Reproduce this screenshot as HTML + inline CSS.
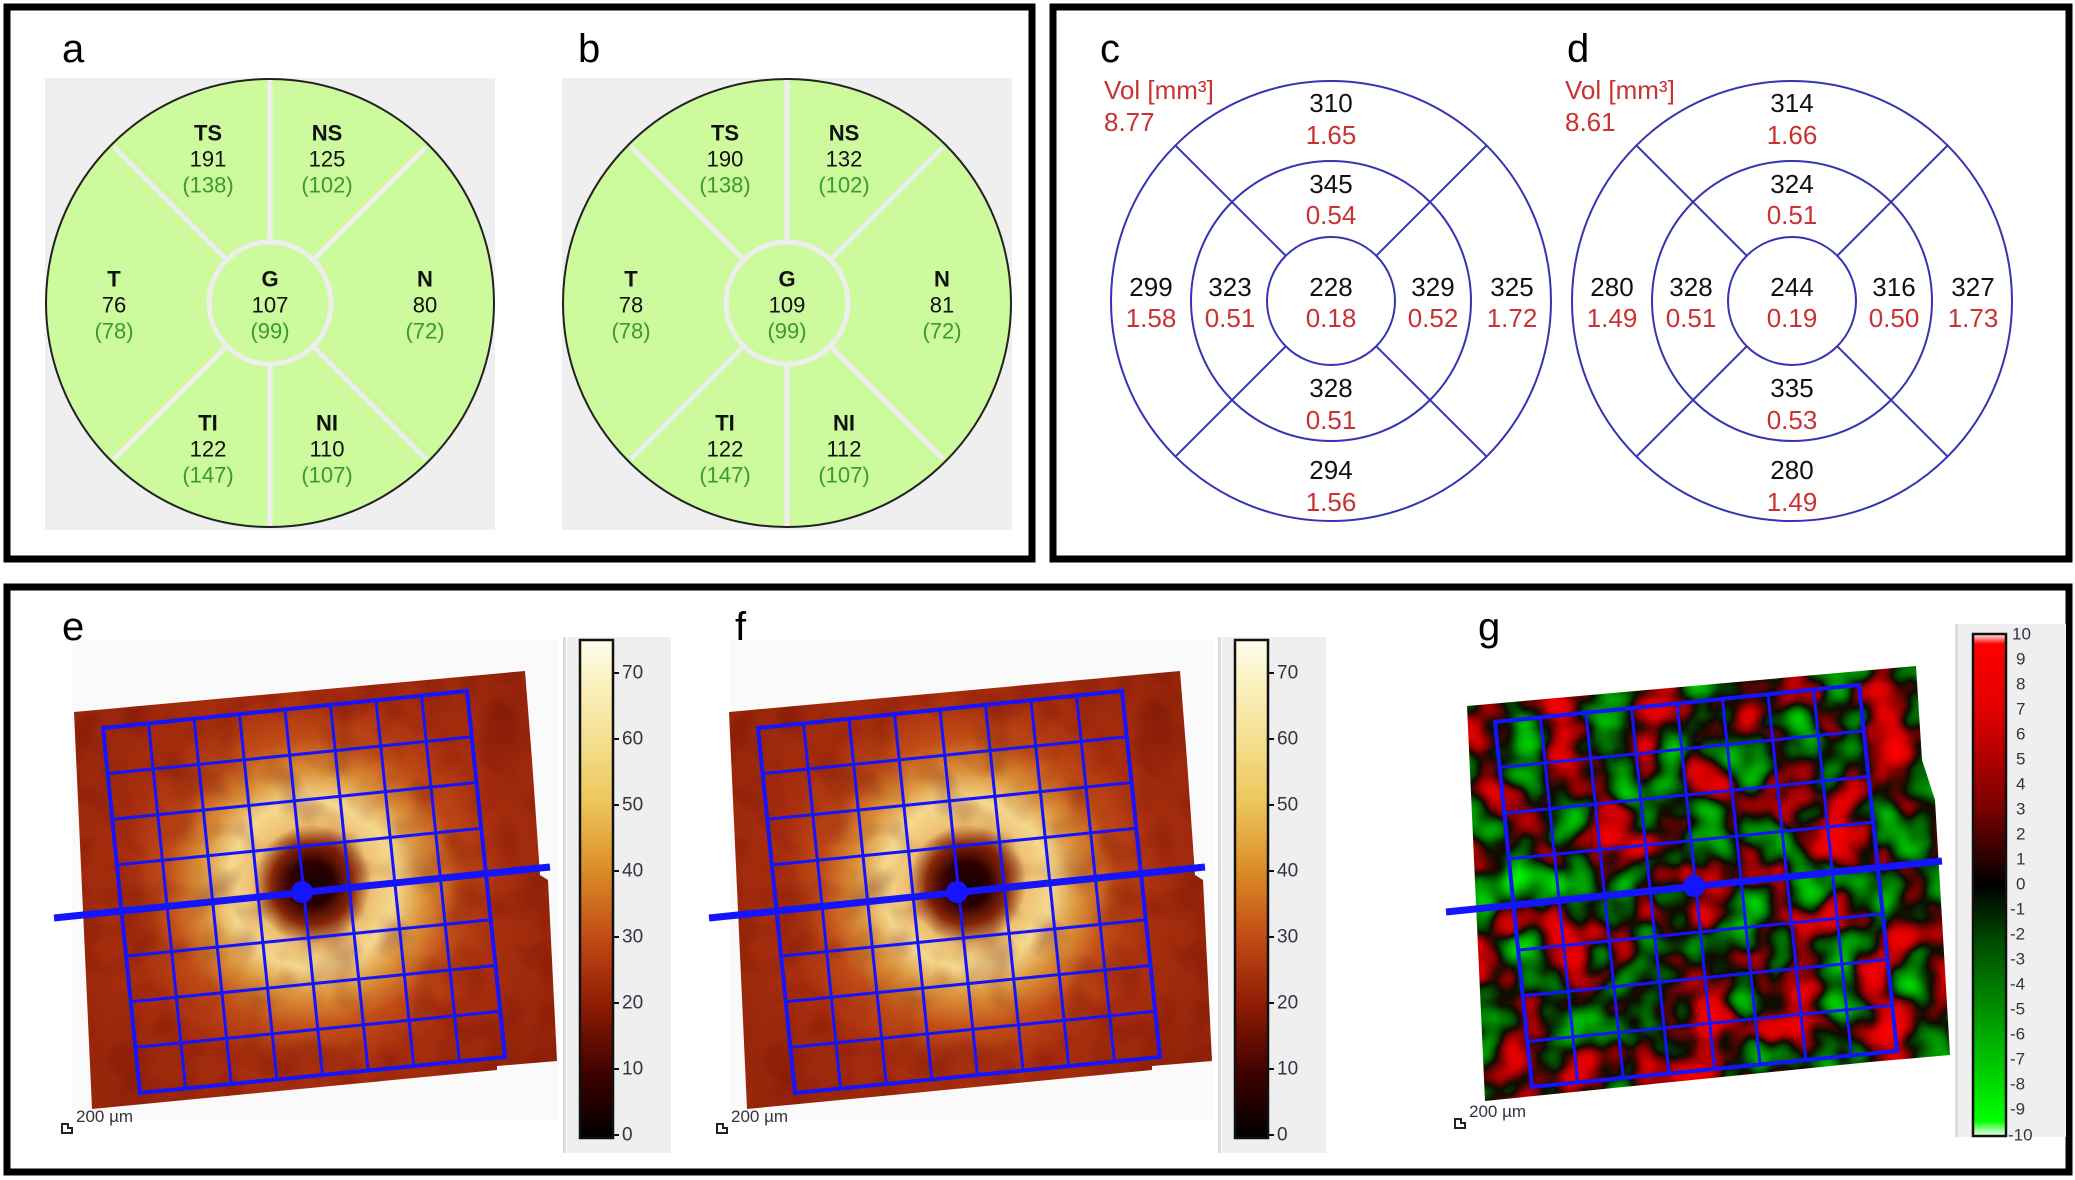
<!DOCTYPE html>
<html><head><meta charset="utf-8"><style>
html,body{margin:0;padding:0;background:#fff;}
svg{display:block;font-family:"Liberation Sans",sans-serif;}
</style></head><body>
<svg width="2075" height="1180" viewBox="0 0 2075 1180" xmlns="http://www.w3.org/2000/svg">
<defs>
 <radialGradient id="hm" gradientUnits="userSpaceOnUse" cx="312" cy="884" r="270">
  <stop offset="0" stop-color="#140000"/>
  <stop offset="0.08" stop-color="#2a0000"/>
  <stop offset="0.15" stop-color="#8a2a08"/>
  <stop offset="0.22" stop-color="#eec070"/>
  <stop offset="0.31" stop-color="#f4d88e"/>
  <stop offset="0.42" stop-color="#da9038"/>
  <stop offset="0.54" stop-color="#c04c16"/>
  <stop offset="0.7" stop-color="#a82e0e"/>
  <stop offset="1" stop-color="#98260a"/>
 </radialGradient>
 <linearGradient id="cb1" x1="0" y1="1" x2="0" y2="0">
  <stop offset="0" stop-color="#000000"/>
  <stop offset="0.133" stop-color="#400200"/>
  <stop offset="0.267" stop-color="#901c04"/>
  <stop offset="0.4" stop-color="#c24a14"/>
  <stop offset="0.533" stop-color="#da8a26"/>
  <stop offset="0.667" stop-color="#ecc458"/>
  <stop offset="0.8" stop-color="#f4e090"/>
  <stop offset="0.933" stop-color="#fbf4c8"/>
  <stop offset="1" stop-color="#fffdf0"/>
 </linearGradient>
 <linearGradient id="cb2" x1="0" y1="0" x2="0" y2="1">
  <stop offset="0" stop-color="#fff4f4"/>
  <stop offset="0.02" stop-color="#ff0000"/>
  <stop offset="0.15" stop-color="#e00000"/>
  <stop offset="0.35" stop-color="#780000"/>
  <stop offset="0.5" stop-color="#000000"/>
  <stop offset="0.62" stop-color="#005000"/>
  <stop offset="0.78" stop-color="#00a000"/>
  <stop offset="0.97" stop-color="#00ff00"/>
  <stop offset="1" stop-color="#f4fff4"/>
 </linearGradient>
 <filter id="tex" x="0" y="0" width="100%" height="100%" color-interpolation-filters="sRGB">
  <feTurbulence type="fractalNoise" baseFrequency="0.025" numOctaves="2" seed="3"/>
  <feColorMatrix type="matrix" values="0 0 0 0 0.35  0 0 0 0 0  0 0 0 0 0  1.6 0 0 0 -0.7"/>
 </filter>
 <filter id="rg" x="0" y="0" width="100%" height="100%" color-interpolation-filters="sRGB">
  <feTurbulence type="fractalNoise" baseFrequency="0.022" numOctaves="2" seed="7"/>
  <feColorMatrix type="matrix" values="1 0 0 0 0  1 0 0 0 0  0 0 0 0 0  0 0 0 0 1"/>
  <feComponentTransfer>
   <feFuncR type="table" tableValues="0 0 0 0 0 0.05 0.55 0.85 0.95 1 1"/>
   <feFuncG type="table" tableValues="1 1 0.85 0.65 0.4 0.05 0 0 0 0 0"/>
   <feFuncB type="table" tableValues="0 0"/>
  </feComponentTransfer>
 </filter>
 <clipPath id="ce"><polygon points="74,712 525,671 532,760 540,875 548,880 557,1061 497,1066 497,1070 92,1109"/></clipPath>
 <clipPath id="cg"><polygon points="1467,706 1916,666 1922,760 1935,800 1950,1055 1870,1062 1485,1101"/></clipPath>
 <g id="grid" fill="none" stroke="#1414ff">
  <polygon points="103,728 467,691 505,1057 140,1093" stroke-width="4"/>
  <g stroke-width="3">
  <line x1="107.6" y1="773.6" x2="471.8" y2="736.8"/>
  <line x1="112.3" y1="819.3" x2="476.5" y2="782.5"/>
  <line x1="116.9" y1="864.9" x2="481.3" y2="828.3"/>
  <line x1="121.5" y1="910.5" x2="486" y2="874"/>
  <line x1="126.1" y1="956.1" x2="490.8" y2="919.8"/>
  <line x1="130.8" y1="1001.8" x2="495.5" y2="965.5"/>
  <line x1="135.4" y1="1047.4" x2="500.3" y2="1011.3"/>
  <line x1="148.5" y1="723.4" x2="185.6" y2="1088.5"/>
  <line x1="194" y1="718.75" x2="231.25" y2="1084"/>
  <line x1="239.5" y1="714.1" x2="276.9" y2="1079.5"/>
  <line x1="285" y1="709.5" x2="322.5" y2="1075"/>
  <line x1="330.5" y1="704.9" x2="368.1" y2="1070.5"/>
  <line x1="376" y1="700.25" x2="413.75" y2="1066"/>
  <line x1="421.5" y1="695.6" x2="459.4" y2="1061.5"/>
  </g>
  <line x1="54" y1="918" x2="550" y2="867" stroke-width="7"/>
  <circle cx="302" cy="892" r="11" fill="#1414ff" stroke="none"/>
 </g>
</defs>

<rect x="7" y="7" width="1025" height="552" fill="none" stroke="#000" stroke-width="7"/>
<rect x="1053" y="7" width="1016" height="552" fill="none" stroke="#000" stroke-width="7"/>
<rect x="7" y="587" width="2062" height="585" fill="none" stroke="#000" stroke-width="7"/>

<text x="62" y="62" font-size="40">a</text>
<rect x="45" y="78" width="450" height="452" fill="#efefef"/>
<g id="pa">
 <circle cx="270" cy="303" r="224" fill="#ccfa9c" stroke="#222" stroke-width="2"/>
 <g stroke="#eeeeee" stroke-width="5">
  <line x1="270" y1="80" x2="270" y2="240"/>
  <line x1="270" y1="366" x2="270" y2="526"/>
  <line x1="114" y1="147" x2="225" y2="258"/>
  <line x1="426" y1="147" x2="315" y2="258"/>
  <line x1="114" y1="459" x2="225" y2="348"/>
  <line x1="426" y1="459" x2="315" y2="348"/>
 </g>
 <circle cx="270" cy="303" r="61" fill="#ccfa9c" stroke="#eeeeee" stroke-width="5"/>
</g>
<rect x="562" y="78" width="450" height="452" fill="#efefef"/>
<use href="#pa" transform="translate(517,0)"/>
<g font-size="22" text-anchor="middle" dominant-baseline="central" fill="#111">
 <g font-weight="bold">
  <text x="208" y="133">TS</text><text x="327" y="133">NS</text>
  <text x="114" y="279">T</text><text x="270" y="279">G</text><text x="425" y="279">N</text>
  <text x="208" y="423">TI</text><text x="327" y="423">NI</text>
  <text x="725" y="133">TS</text><text x="844" y="133">NS</text>
  <text x="631" y="279">T</text><text x="787" y="279">G</text><text x="942" y="279">N</text>
  <text x="725" y="423">TI</text><text x="844" y="423">NI</text>
 </g>
 <text x="208" y="159">191</text><text x="327" y="159">125</text>
 <text x="114" y="305">76</text><text x="270" y="305">107</text><text x="425" y="305">80</text>
 <text x="208" y="449">122</text><text x="327" y="449">110</text>
 <text x="725" y="159">190</text><text x="844" y="159">132</text>
 <text x="631" y="305">78</text><text x="787" y="305">109</text><text x="942" y="305">81</text>
 <text x="725" y="449">122</text><text x="844" y="449">112</text>
 <g fill="#3a9a2a">
  <text x="208" y="185">(138)</text><text x="327" y="185">(102)</text>
  <text x="114" y="331">(78)</text><text x="270" y="331">(99)</text><text x="425" y="331">(72)</text>
  <text x="208" y="475">(147)</text><text x="327" y="475">(107)</text>
  <text x="725" y="185">(138)</text><text x="844" y="185">(102)</text>
  <text x="631" y="331">(78)</text><text x="787" y="331">(99)</text><text x="942" y="331">(72)</text>
  <text x="725" y="475">(147)</text><text x="844" y="475">(107)</text>
 </g>
</g>
<text x="578" y="62" font-size="40">b</text>

<text x="1100" y="62" font-size="40">c</text>
<text x="1567" y="62" font-size="40">d</text>
<g id="pc" fill="none" stroke="#3434b4" stroke-width="2">
 <circle cx="1331" cy="301" r="220"/>
 <circle cx="1331" cy="301" r="140"/>
 <circle cx="1331" cy="301" r="64"/>
 <line x1="1175.4" y1="145.4" x2="1285.7" y2="255.7"/>
 <line x1="1486.6" y1="145.4" x2="1376.3" y2="255.7"/>
 <line x1="1175.4" y1="456.6" x2="1285.7" y2="346.3"/>
 <line x1="1486.6" y1="456.6" x2="1376.3" y2="346.3"/>
</g>
<use href="#pc" transform="translate(461,0)"/>
<g font-size="26" dominant-baseline="central">
 <g fill="#c83232">
  <text x="1104" y="90">Vol [mm³]</text><text x="1104" y="122">8.77</text>
  <text x="1565" y="90">Vol [mm³]</text><text x="1565" y="122">8.61</text>
 </g>
 <g text-anchor="middle" fill="#111">
  <text x="1331" y="103">310</text><text x="1331" y="184">345</text><text x="1331" y="287">228</text><text x="1331" y="388">328</text><text x="1331" y="470">294</text>
  <text x="1151" y="287">299</text><text x="1230" y="287">323</text><text x="1433" y="287">329</text><text x="1512" y="287">325</text>
  <text x="1792" y="103">314</text><text x="1792" y="184">324</text><text x="1792" y="287">244</text><text x="1792" y="388">335</text><text x="1792" y="470">280</text>
  <text x="1612" y="287">280</text><text x="1691" y="287">328</text><text x="1894" y="287">316</text><text x="1973" y="287">327</text>
 </g>
 <g text-anchor="middle" fill="#c83232">
  <text x="1331" y="135">1.65</text><text x="1331" y="215">0.54</text><text x="1331" y="318">0.18</text><text x="1331" y="420">0.51</text><text x="1331" y="502">1.56</text>
  <text x="1151" y="318">1.58</text><text x="1230" y="318">0.51</text><text x="1433" y="318">0.52</text><text x="1512" y="318">1.72</text>
  <text x="1792" y="135">1.66</text><text x="1792" y="215">0.51</text><text x="1792" y="318">0.19</text><text x="1792" y="420">0.53</text><text x="1792" y="502">1.49</text>
  <text x="1612" y="318">1.49</text><text x="1691" y="318">0.51</text><text x="1894" y="318">0.50</text><text x="1973" y="318">1.73</text>
 </g>
</g>

<rect x="72" y="639" width="487" height="481" fill="#fafafa"/>
<text x="62" y="640" font-size="40">e</text>
<g id="pe">
 <g clip-path="url(#ce)">
  <rect x="60" y="660" width="510" height="460" fill="url(#hm)"/>
  <rect x="60" y="660" width="510" height="460" filter="url(#tex)" opacity="0.45"/>
 </g>
 <rect x="563" y="637" width="3" height="516" fill="#dcdcdc"/>
 <rect x="567" y="637" width="104" height="516" fill="#efefef"/>
 <rect x="580" y="640" width="33" height="498" fill="url(#cb1)" stroke="#111" stroke-width="2.5"/>
 <g stroke="#111" stroke-width="2">
  <line x1="613" y1="673" x2="619" y2="673"/><line x1="613" y1="739" x2="619" y2="739"/>
  <line x1="613" y1="805" x2="619" y2="805"/><line x1="613" y1="871" x2="619" y2="871"/>
  <line x1="613" y1="937" x2="619" y2="937"/><line x1="613" y1="1003" x2="619" y2="1003"/>
  <line x1="613" y1="1069" x2="619" y2="1069"/><line x1="613" y1="1135" x2="619" y2="1135"/>
 </g>
 <g font-size="19" fill="#3a3040" dominant-baseline="central">
  <text x="622" y="673">70</text><text x="622" y="739">60</text><text x="622" y="805">50</text>
  <text x="622" y="871">40</text><text x="622" y="937">30</text><text x="622" y="1003">20</text>
  <text x="622" y="1069">10</text><text x="622" y="1135">0</text>
 </g>
 <text x="76" y="1122" font-size="17" fill="#3a3040">200 µm</text>
 <path d="M62 1124 v9 h10 v-5 h-4 v-4 z" fill="none" stroke="#222" stroke-width="2"/>
</g>
<use href="#grid"/>

<rect x="730" y="639" width="483" height="481" fill="#fafafa"/>
<text x="735" y="640" font-size="40">f</text>
<use href="#pe" transform="translate(655,0)"/>
<use href="#grid" transform="translate(655,0)"/>

<text x="1478" y="640" font-size="40">g</text>
<g clip-path="url(#cg)">
 <rect x="1460" y="660" width="500" height="450" filter="url(#rg)"/>
</g>
<rect x="1955" y="624" width="3" height="513" fill="#dcdcdc"/>
<rect x="1958" y="624" width="108" height="513" fill="#efefef"/>
<rect x="1973" y="634" width="33" height="502" fill="url(#cb2)" stroke="#111" stroke-width="2.5"/>
<g font-size="17" fill="#3a3040" dominant-baseline="central">
 <text x="2012" y="634">10</text><text x="2016" y="659">9</text><text x="2016" y="684">8</text><text x="2016" y="709">7</text><text x="2016" y="734">6</text>
 <text x="2016" y="759">5</text><text x="2016" y="784">4</text><text x="2016" y="809">3</text><text x="2016" y="834">2</text><text x="2016" y="859">1</text>
 <text x="2016" y="884">0</text><text x="2010" y="909">-1</text><text x="2010" y="934">-2</text><text x="2010" y="959">-3</text><text x="2010" y="984">-4</text>
 <text x="2010" y="1009">-5</text><text x="2010" y="1034">-6</text><text x="2010" y="1059">-7</text><text x="2010" y="1084">-8</text><text x="2010" y="1109">-9</text>
 <text x="2008" y="1135">-10</text>
</g>
<text x="1469" y="1117" font-size="17" fill="#3a3040">200 µm</text>
<path d="M1455 1119 v9 h10 v-5 h-4 v-4 z" fill="none" stroke="#222" stroke-width="2"/>
<use href="#grid" transform="translate(1392,-6)"/>
</svg>
</body></html>
